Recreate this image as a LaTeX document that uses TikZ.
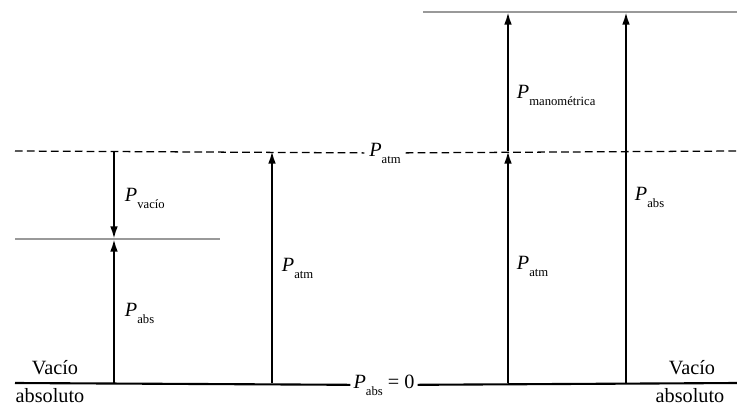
\documentclass[tikz,border=0pt]{standalone}
\usepackage{fontspec}
\setmainfont{Liberation Serif}
\usetikzlibrary{arrows.meta}

\newcommand{\pres}[1]{\textit{P}\raisebox{-0.75ex}{\small #1}}

\begin{document}
\begin{tikzpicture}[x=0.025cm, y=-0.025cm]
\tikzset{
    base/.style={line width=1.5pt, black},
    level/.style={line width=1.3pt, black!40},
    ref/.style={line width=0.9pt, dash pattern=on 5.5pt off 3pt},
    arrow/.style={line width=1.5pt, -{Latex[length=9pt, width=5.5pt]}},
    lbl/.style={anchor=west, font=\Large}
}
\useasboundingbox (0,0) rectangle (737,408);

% base line, P_abs = 0
\coordinate (bl) at (15,383);
\coordinate (br) at (737,383);
\node[font=\Large, inner sep=2pt] (zero) at (384,385) {\pres{abs} = 0};
\draw[base] (bl) -- (zero);
\draw[base] (zero) -- (br);

% atmospheric reference
\coordinate (dl) at (15,151);
\coordinate (dr) at (737,151);
\node[font=\Large] (atm) at (385,153) {\pres{atm}};
\draw[ref] (dl) -- (atm);
\draw[ref] (atm) -- (dr);

% measured levels
\coordinate (hl) at (423,12);
\coordinate (hr) at (737,12);
\draw[level] (hl) -- (hr);
\coordinate (ll) at (15,239);
\coordinate (lr) at (220,239);
\draw[level] (ll) -- (lr);

% vacuum side
\coordinate (v0) at (114,383);
\coordinate (v1) at (114,239);
\coordinate (v2) at (114,151);
\draw[arrow] (v2) -- (v1);
\draw[arrow] (v0) -- (v1);
\coordinate (a0) at (272,383);
\coordinate (a1) at (272,151);
\draw[arrow] (a0) -- (a1);

% gauge side
\coordinate (m0) at (508,383);
\coordinate (m1) at (508,151);
\coordinate (m2) at (508,12);
\draw[arrow] (m0) -- (m1);
\draw[arrow] (m1) -- (m2);
\coordinate (r0) at (626,383);
\coordinate (r1) at (626,12);
\draw[arrow] (r0) -- (r1);

% labels
\node[lbl] (pvac) at (120,198) {\pres{vacío}};
\node[lbl] (pabsl) at (120,313) {\pres{abs}};
\node[lbl] (patml) at (277,268) {\pres{atm}};
\node[lbl] (pman) at (512,95) {\pres{manométrica}};
\node[lbl] (patmr) at (512,266) {\pres{atm}};
\node[lbl] (pabsr) at (630,197) {\pres{abs}};

\node[font=\Large] (vacl) at (55,368) {Vacío};
\node[font=\Large] (absl) at (50,396) {absoluto};
\node[font=\Large] (vacr) at (692,368) {Vacío};
\node[font=\Large] (absr) at (690,396) {absoluto};
\end{tikzpicture}
\end{document}
